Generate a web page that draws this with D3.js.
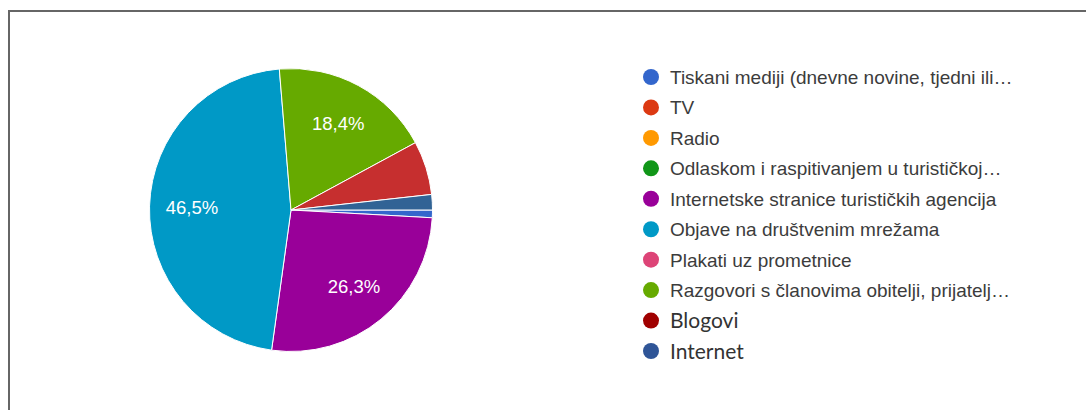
<!DOCTYPE html>
<html>
<head>
<meta charset="utf-8">
<script src="https://cdn.jsdelivr.net/npm/d3@7"></script>
<style>
  body { margin: 0; background: #fff; }
</style>
</head>
<body>
<svg id="chart"></svg>
<script>
// ===============================
// Data
// ===============================
const categories = [
    "Tiskani mediji (dnevne novine, tjedni ili…",
    "TV",
    "Radio",
    "Odlaskom i raspitivanjem u turističkoj…",
    "Internetske stranice turističkih agencija",
    "Objave na društvenim mrežama",
    "Plakati uz prometnice",
    "Razgovori s članovima obitelji, prijatelj…",
    "Blogovi",
    "Internet"
];
const counts = [1, 0, 0, 0, 30, 53, 0, 21, 7, 2];
const sliceColors = ["#3366cc", "#dc3912", "#ff9900", "#109618", "#990099",
                     "#0099c6", "#dd4477", "#66aa00", "#c62f2f", "#316395"];
const legendColors = ["#3366cc", "#dc3912", "#ff9900", "#109618", "#990099",
                      "#0099c6", "#dd4477", "#66aa00", "#a00000", "#2f5597"];
// last two legend entries use a different font in the original
const legendCalibri = [false, false, false, false, false, false, false, false, true, true];

// ===============================
// Setup
// ===============================
const width = 1086, height = 410;
const svg = d3.select("#chart").attr("width", width).attr("height", height);

// frame (top + left edge)
svg.append("path")
    .attr("d", `M9,${height} V11 H${width}`)
    .attr("fill", "none")
    .attr("stroke", "#666")
    .attr("stroke-width", 2);

// ===============================
// Pie
// ===============================
const cx = 291, cy = 210, radius = 141.5;
const total = d3.sum(counts);

const pie = d3.pie()
    .sort(null)
    .value(d => d)
    .startAngle(Math.PI / 2)
    .endAngle(Math.PI / 2 + 2 * Math.PI);

const arcs = pie(counts).map((a, i) => Object.assign(a, { i }));

const arc = d3.arc().innerRadius(0).outerRadius(radius);
const labelArc = d3.arc().innerRadius(radius * 0.7).outerRadius(radius * 0.7);

const g = svg.append("g").attr("transform", `translate(${cx},${cy})`);

g.selectAll("path")
    .data(arcs.filter(d => d.value > 0))
    .enter()
    .append("path")
    .attr("d", arc)
    .attr("fill", d => sliceColors[d.i])
    .attr("stroke", "#fff")
    .attr("stroke-width", 1);

const fmt = v => (v * 100).toFixed(1).replace(".", ",") + "%";

g.selectAll("text")
    .data(arcs.filter(d => d.value / total > 0.1))
    .enter()
    .append("text")
    .attr("transform", d => `translate(${labelArc.centroid(d)})`)
    .attr("text-anchor", "middle")
    .attr("dy", "0.36em")
    .attr("fill", "#fff")
    .attr("font-family", "Arial, 'Liberation Sans', sans-serif")
    .attr("font-size", 18.5)
    .text(d => fmt(d.value / total));

// ===============================
// Legend
// ===============================
const y = d3.scalePoint()
    .domain(categories)
    .range([77, 351]);

const legend = svg.append("g");

const rows = legend.selectAll("g")
    .data(categories)
    .enter()
    .append("g")
    .attr("transform", d => `translate(651, ${y(d)})`);

rows.append("circle")
    .attr("r", 8)
    .attr("fill", (d, i) => legendColors[i]);

rows.append("text")
    .attr("x", 19)
    .attr("dy", "0.36em")
    .attr("fill", (d, i) => legendCalibri[i] ? "#333" : "#3c3c3c")
    .attr("font-family", (d, i) => legendCalibri[i] ? "Lato, 'Open Sans', sans-serif" : "Arial, 'Liberation Sans', sans-serif")
    .attr("font-size", (d, i) => legendCalibri[i] ? 21 : 19)
    .text(d => d);
</script>
</body>
</html>
